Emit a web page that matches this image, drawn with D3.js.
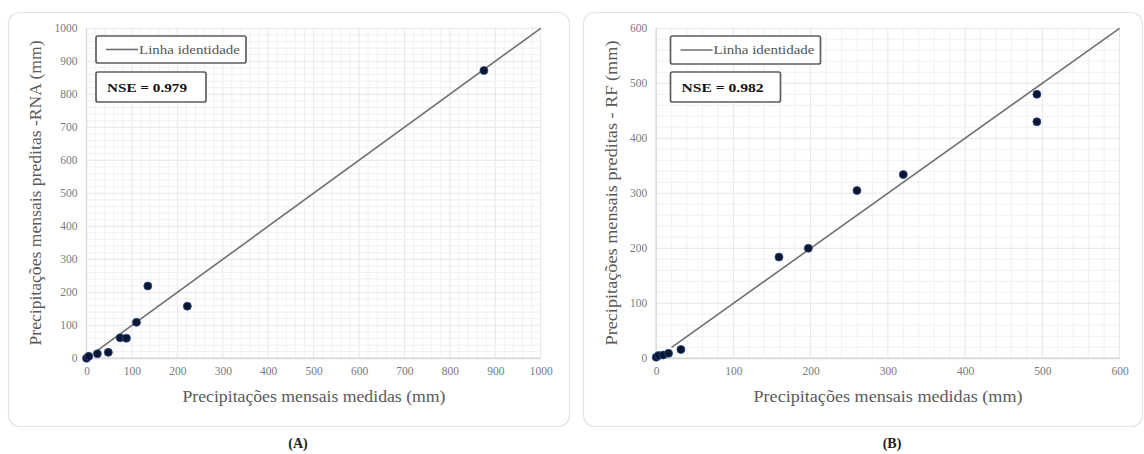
<!DOCTYPE html>
<html>
<head>
<meta charset="utf-8">
<script src="https://cdn.jsdelivr.net/npm/d3@7/dist/d3.min.js"></script>
<style>
  html, body { margin: 0; padding: 0; background: #fff; }
  svg { display: block; }
  text { font-family: "Liberation Serif", "DejaVu Serif", serif; }
</style>
</head>
<body>
<svg id="chart" width="1144" height="454"></svg>
<script>
// ---- Data ----
const rnaMeasured  = [0, 5, 24, 48, 74, 88, 110, 135, 222, 875];
const rnaPredicted = [0, 6, 14, 18, 62, 61, 109, 219, 158, 872];
const rfMeasured   = [0, 3, 9, 16, 32, 159, 197, 260, 320, 493, 493];
const rfPredicted  = [2, 5, 6, 9, 16, 184, 200, 305, 334, 480, 430];
const rnaTicks = [0, 100, 200, 300, 400, 500, 600, 700, 800, 900, 1000];
const rfTicks  = [0, 100, 200, 300, 400, 500, 600];
const legendLabel = "Linha identidade";
const nseLabels = ["NSE = 0.979", "NSE = 0.982"];
const panelLabels = ["(A)", "(B)"];
const xTitles = ["Precipitações mensais medidas (mm)", "Precipitações  mensais medidas (mm)"];
const yTitles = ["Precipitações mensais preditas -RNA (mm)", "Precipitações  mensais preditas - RF (mm)"];
const identityStart = [25, 20];

const svg = d3.select("#chart");
svg.append("rect").attr("width", 1144).attr("height", 454).attr("fill", "#fff");

const panels = [
  { frame: [8.5, 12.5, 561, 414], x0: 86.5, x1: 540.7, y0: 358.3, y1: 28.3, max: 1000,
    ticks: rnaTicks, mx: rnaMeasured, my: rnaPredicted, legend: [96, 36, 150, 27], nse: [96, 72, 110, 30],
    yTitleX: 36, labelX: 298, xTitleC: 314, xTitleW: 263, yTitleW: 305, nseW: 80 },
  { frame: [583.5, 12.5, 559, 414], x0: 656.2, x1: 1119.5, y0: 358.3, y1: 28.3, max: 600,
    ticks: rfTicks, mx: rfMeasured, my: rfPredicted, legend: [670.5, 36, 150, 28], nse: [670.5, 72, 110, 30],
    yTitleX: 612, labelX: 892, xTitleC: 888, xTitleW: 269, yTitleW: 305, nseW: 82 }
];

panels.forEach((p, i) => {
  const g = svg.append("g");
  // frame
  g.append("rect").attr("x", p.frame[0]).attr("y", p.frame[1])
    .attr("width", p.frame[2]).attr("height", p.frame[3])
    .attr("rx", 11).attr("fill", "#fff").attr("stroke", "#e4e4e4").attr("stroke-width", 1.2);

  const x = d3.scaleLinear().domain([0, p.max]).range([p.x0, p.x1]);
  const y = d3.scaleLinear().domain([0, p.max]).range([p.y0, p.y1]);

  // minor grid
  const minor = d3.range(0, p.max + 1, 20);
  g.append("g").selectAll("line.vx").data(minor).join("line")
    .attr("x1", d => x(d)).attr("x2", d => x(d)).attr("y1", y(0)).attr("y2", y(p.max))
    .attr("stroke", d => d % 100 === 0 ? "#e6e6e6" : "#f1f1f1").attr("stroke-width", 1);
  g.append("g").selectAll("line.hy").data(minor).join("line")
    .attr("x1", x(0)).attr("x2", x(p.max)).attr("y1", d => y(d)).attr("y2", d => y(d))
    .attr("stroke", d => d % 100 === 0 ? "#e6e6e6" : "#f1f1f1").attr("stroke-width", 1);

  // axis lines
  g.append("line").attr("x1", x(0)).attr("x2", x(0)).attr("y1", y(0)).attr("y2", y(p.max))
    .attr("stroke", "#d9d9d9").attr("stroke-width", 1.3);
  g.append("line").attr("x1", x(0)).attr("x2", x(p.max)).attr("y1", y(0)).attr("y2", y(0))
    .attr("stroke", "#d9d9d9").attr("stroke-width", 1.8);

  // axes (labels only)
  const ax = g.append("g").attr("transform", `translate(0,${y(0)})`)
    .call(d3.axisBottom(x).tickValues(p.ticks).tickSize(0).tickPadding(9).tickFormat(d3.format("d")));
  const ay = g.append("g").attr("transform", `translate(${x(0)},0)`)
    .call(d3.axisLeft(y).tickValues(p.ticks).tickSize(0).tickPadding(9).tickFormat(d3.format("d")));
  [ax, ay].forEach(a => {
    a.select(".domain").remove();
    a.selectAll("text").attr("fill", "#7a7a7a").style("font-size", "11.5px")
      .style("font-family", "'Liberation Serif', serif");
  });

  // identity line
  g.append("line").attr("x1", x(identityStart[i])).attr("y1", y(identityStart[i]))
    .attr("x2", x(p.max)).attr("y2", y(p.max))
    .attr("stroke", "#707070").attr("stroke-width", 1.6);

  // points
  g.append("g").selectAll("circle").data(p.mx.map((v, k) => [v, p.my[k]])).join("circle")
    .attr("cx", d => x(d[0])).attr("cy", d => y(d[1])).attr("r", 4)
    .attr("fill", "#0b1633").attr("stroke", "#2b4a8a").attr("stroke-width", 0.8);

  // legend
  const L = p.legend;
  g.append("rect").attr("x", L[0]).attr("y", L[1]).attr("width", L[2]).attr("height", L[3])
    .attr("rx", 2).attr("fill", "#fff").attr("stroke", "#5e5e5e").attr("stroke-width", 1.7);
  g.append("line").attr("x1", L[0] + 10).attr("x2", L[0] + 42)
    .attr("y1", L[1] + L[3] / 2).attr("y2", L[1] + L[3] / 2)
    .attr("stroke", "#707070").attr("stroke-width", 1.6);
  g.append("text").attr("x", L[0] + 43).attr("y", L[1] + L[3] / 2 + 4)
    .attr("fill", "#555").style("font-size", "12.5px")
    .attr("textLength", 101).attr("lengthAdjust", "spacingAndGlyphs").text(legendLabel);

  const N = p.nse;
  g.append("rect").attr("x", N[0]).attr("y", N[1]).attr("width", N[2]).attr("height", N[3])
    .attr("rx", 2).attr("fill", "#fff").attr("stroke", "#5e5e5e").attr("stroke-width", 1.7);
  g.append("text").attr("x", N[0] + 11).attr("y", N[1] + N[3] / 2 + 4.5)
    .attr("fill", "#111").style("font-size", "12.5px").style("font-weight", "bold")
    .attr("textLength", p.nseW).attr("lengthAdjust", "spacingAndGlyphs").text(nseLabels[i]);

  // axis titles
  g.append("text").attr("x", p.xTitleC).attr("y", 402).attr("text-anchor", "middle")
    .attr("fill", "#5a5a5a").style("font-size", "16px")
    .attr("textLength", p.xTitleW).attr("lengthAdjust", "spacingAndGlyphs").text(xTitles[i]);
  g.append("text").attr("transform", `translate(${p.yTitleX + 5},193) rotate(-90)`)
    .attr("text-anchor", "middle")
    .attr("fill", "#5a5a5a").style("font-size", "16px")
    .attr("textLength", p.yTitleW).attr("lengthAdjust", "spacingAndGlyphs").text(yTitles[i]);

  // panel label
  svg.append("text").attr("x", p.labelX).attr("y", 448).attr("text-anchor", "middle")
    .attr("fill", "#222").style("font-size", "14px").style("font-weight", "bold").text(panelLabels[i]);
});
</script>
</body>
</html>
